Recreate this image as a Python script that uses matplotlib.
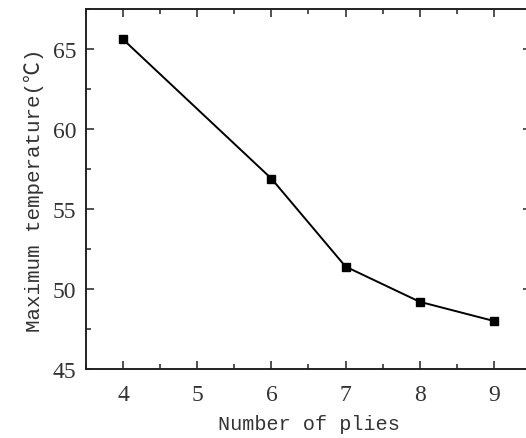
import matplotlib.pyplot as plt
from matplotlib.ticker import MultipleLocator

plies = [4, 6, 7, 8, 9]
max_temp = [65.6, 56.9, 51.4, 49.2, 48.0]
xticks = [4, 5, 6, 7, 8, 9]
yticks = [45, 50, 55, 60, 65]

fig = plt.figure(figsize=(5.26, 4.39), dpi=100)
ax = fig.add_axes([86/526, (439-370)/439, (531-86)/526, 360/439])

ax.plot(plies, max_temp, 'k-', lw=1.4, marker='s', ms=6)

ax.set_xlim(3.5, 9.5)
ax.set_ylim(45, 67.5)
ax.set_xticks(xticks)
ax.set_yticks(yticks)
ax.xaxis.set_minor_locator(MultipleLocator(0.5))
ax.yaxis.set_minor_locator(MultipleLocator(2.5))
ax.tick_params(which='both', direction='in', top=True, right=True, width=1.2, color='#333333')
ax.tick_params(which='major', length=6, labelsize=17)
ax.tick_params(axis='x', which='major', pad=11)
ax.tick_params(axis='y', which='major', pad=7)
ax.tick_params(which='minor', length=3.5)
for lab in ax.get_xticklabels() + ax.get_yticklabels():
    lab.set_family('Liberation Serif')
    lab.set_color('#333333')
for s in ax.spines.values():
    s.set_linewidth(1.4)
    s.set_color('#222222')

lab_font = ['Liberation Mono', 'Noto Sans CJK SC']
ax.set_xlabel('Number of plies', family=lab_font, fontsize=14.5, color='#333333', labelpad=6)
ax.set_ylabel('Maximum temperature(℃)', family=lab_font, fontsize=15, color='#333333', labelpad=6)

fig.savefig('out.png', dpi=100)
